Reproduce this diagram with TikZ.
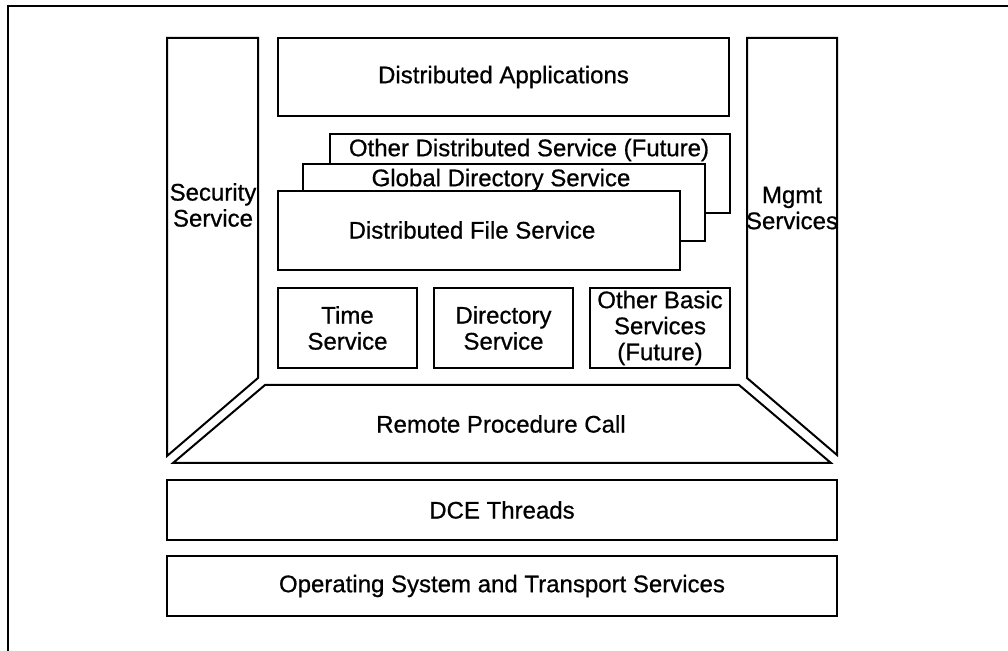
\documentclass[tikz,border=0pt]{standalone}
\usepackage{fontspec}
\setmainfont{Liberation Sans}
\newfontfamily\lblfam[FakeBold=0.7]{Liberation Sans}
\newcommand{\lblfont}{\lblfam\fontsize{12}{13}\selectfont}
\begin{document}
\begin{tikzpicture}[x=0.5pt,y=-0.5pt,line width=1pt,line join=miter,
  box/.style={draw,fill=white,inner sep=0pt,align=center,font=\lblfont},
  lbl/.style={inner sep=0pt,align=center,font=\lblfont}]
\useasboundingbox (0,0) rectangle (1008,651);
% outer frame (open on right and bottom)
\draw (1008,6) -- (8,6) -- (8,651);
% side columns
\draw (167,38) -- (258,38) -- (258,378) -- (167,456) -- cycle;
\node[lbl] (sec) at (213,205) {Security\\Service};
\draw (747,38) -- (837,38) -- (837,455) -- (747,378) -- cycle;
\node[lbl] (mgmt) at (792,208) {Mgmt\\Services};
% distributed applications
\node[box,minimum width=225.5pt,minimum height=39pt] (apps) at (503.5,77) {Distributed Applications};
% stacked distributed services
\node[box,minimum width=200pt,minimum height=39.5pt] (ods) at (530,173.5) {};
\node[lbl] (odstxt) at (529,150) {Other Distributed Service (Future)};
\node[box,minimum width=201pt,minimum height=38.5pt] (gds) at (504,202.5) {};
\node[lbl] (gdstxt) at (501,180) {Global Directory Service};
\node[box,minimum width=201pt,minimum height=39.5pt] (dfs) at (479,230.5) {};
\node[lbl] (dfstxt) at (472,230) {Distributed File Service};
% basic services
\node[box,minimum width=69.5pt,minimum height=40pt] (time) at (347.5,328) {Time\\Service};
\node[box,minimum width=69.5pt,minimum height=40pt] (dir) at (503.5,328) {Directory\\Service};
\node[box,minimum width=70pt,minimum height=40pt] (obs) at (660,328) {Other Basic\\Services\\(Future)};
% RPC
\draw (265,385) -- (739,385) -- (831,463) -- (173,463) -- cycle;
\node[lbl] (rpc) at (501,424) {Remote Procedure Call};
% threads and OS
\node[box,minimum width=335pt,minimum height=30pt] (thr) at (502,510) {DCE Threads};
\node[box,minimum width=335pt,minimum height=30pt] (os) at (502,586) {Operating System and Transport Services};
\end{tikzpicture}
\end{document}
